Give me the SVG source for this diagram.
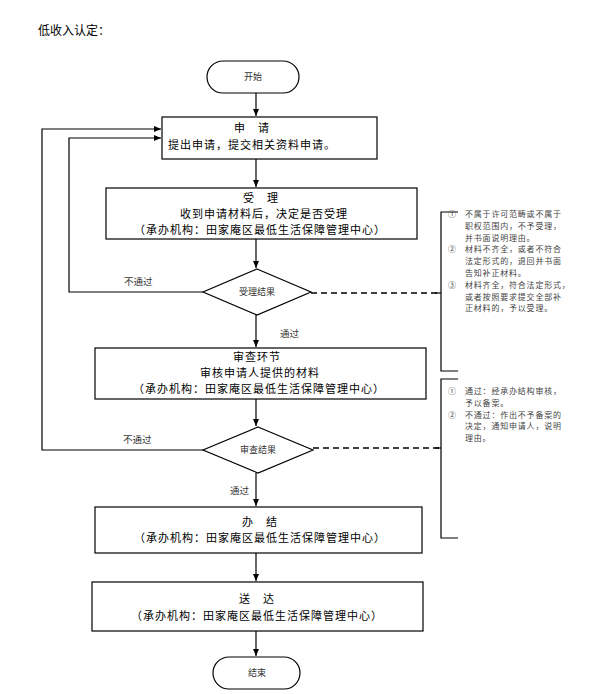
<svg xmlns="http://www.w3.org/2000/svg" width="589" height="694" viewBox="0 0 589 694">
<defs>
<marker id="arr" markerWidth="8" markerHeight="8" refX="7" refY="4" orient="auto" markerUnits="userSpaceOnUse">
<path d="M0,1 L7,4 L0,7 Z" fill="#000"/>
</marker>
<style>
.box{fill:#fff;stroke:#000;stroke-width:1.2}
.ln{fill:none;stroke:#000;stroke-width:1.2}
.dash{fill:none;stroke:#000;stroke-width:1.4;stroke-dasharray:6,4}
text{font-family:"Noto Sans CJK SC","Noto Sans CJK JP",sans-serif}
.t{font-size:11px;letter-spacing:1px;fill:#000;text-anchor:middle}
.s{font-size:9px;fill:#333;text-anchor:middle}
.a{font-size:8px;letter-spacing:0.8px;fill:#444}
.lbl{font-size:9.5px;fill:#333}
</style>
</defs>
<rect width="589" height="694" fill="#fff"/>
<text x="38" y="35" style="font-size:12px" fill="#000">低收入认定：</text>

<g id="connectors">
<line class="ln" x1="256" y1="93" x2="256" y2="116" marker-end="url(#arr)"/>
<line class="ln" x1="256" y1="159" x2="256" y2="187" marker-end="url(#arr)"/>
<line class="ln" x1="256" y1="239" x2="256" y2="268" marker-end="url(#arr)"/>
<line class="ln" x1="256" y1="315" x2="256" y2="347" marker-end="url(#arr)"/>
<line class="ln" x1="256" y1="399" x2="256" y2="426" marker-end="url(#arr)"/>
<line class="ln" x1="256" y1="473" x2="256" y2="506" marker-end="url(#arr)"/>
<line class="ln" x1="256" y1="553" x2="256" y2="581" marker-end="url(#arr)"/>
<line class="ln" x1="256" y1="631" x2="256" y2="656" marker-end="url(#arr)"/>
<polyline class="ln" points="203,292 69,292 69,138 161,138" marker-end="url(#arr)"/>
<polyline class="ln" points="203,450 42,450 42,129 161,129" marker-end="url(#arr)"/>
<line class="dash" x1="311" y1="293" x2="441" y2="293"/>
<line class="dash" x1="313" y1="448" x2="441" y2="448"/>
<text class="lbl" x="124" y="285">不通过</text>
<text class="lbl" x="280" y="337">通过</text>
<text class="lbl" x="123" y="443">不通过</text>
<text class="lbl" x="230" y="494">通过</text>
</g>

<g id="start">
<rect class="box" x="207" y="61" width="92" height="32" rx="16"/>
<text class="s" x="253" y="80">开始</text>
</g>

<g id="apply">
<rect class="box" x="162" y="117" width="215" height="42"/>
<text class="t" x="252" y="132">申　请</text>
<text class="t" x="252" y="149">提出申请，提交相关资料申请。</text>
</g>

<g id="accept">
<rect class="box" x="106" y="188" width="311" height="51"/>
<text class="t" x="261" y="202">受　理</text>
<text class="t" x="264" y="218">收到申请材料后，决定是否受理</text>
<text class="t" x="260" y="234">（承办机构：田家庵区最低生活保障管理中心）</text>
</g>

<g id="accept-result">
<polygon class="box" points="257,269 311,292 257,315 203,292"/>
<text class="s" x="257" y="295">受理结果</text>
</g>

<g id="review">
<rect class="box" x="95" y="348" width="331" height="51"/>
<text class="t" x="257" y="361">审查环节</text>
<text class="t" x="260" y="377">审核申请人提供的材料</text>
<text class="t" x="259" y="393">（承办机构：田家庵区最低生活保障管理中心）</text>
</g>

<g id="review-result">
<polygon class="box" points="258,427 313,450 258,473 203,450"/>
<text class="s" x="258" y="453">审查结果</text>
</g>

<g id="finish">
<rect class="box" x="95" y="507" width="327" height="46"/>
<text class="t" x="260" y="526">办　结</text>
<text class="t" x="260" y="542">（承办机构：田家庵区最低生活保障管理中心）</text>
</g>

<g id="deliver">
<rect class="box" x="92" y="582" width="331" height="49"/>
<text class="t" x="257" y="603">送　达</text>
<text class="t" x="257" y="620">（承办机构：田家庵区最低生活保障管理中心）</text>
</g>

<g id="end">
<rect class="box" x="213" y="657" width="87" height="32" rx="16"/>
<text class="s" x="257" y="676">结束</text>
</g>

<g id="note-accept">
<polyline class="ln" points="458,212 441,212 441,371 458,371"/>
<line class="ln" x1="435" y1="293" x2="441" y2="293"/>
<text class="a" x="448" y="217">①</text>
<text class="a" x="465" y="217">不属于许可范畴或不属于</text>
<text class="a" x="465" y="228.8">职权范围内，不予受理，</text>
<text class="a" x="465" y="240.6">并书面说明理由。</text>
<text class="a" x="448" y="252.4">②</text>
<text class="a" x="465" y="252.4">材料不齐全，或者不符合</text>
<text class="a" x="465" y="264.2">法定形式的，退回并书面</text>
<text class="a" x="465" y="276">告知补正材料。</text>
<text class="a" x="448" y="287.8">③</text>
<text class="a" x="465" y="287.8">材料齐全，符合法定形式，</text>
<text class="a" x="465" y="299.6">或者按照要求提交全部补</text>
<text class="a" x="465" y="311.4">正材料的，予以受理。</text>
</g>

<g id="note-review">
<polyline class="ln" points="458,379 441,379 441,538 458,538"/>
<line class="ln" x1="435" y1="448" x2="441" y2="448"/>
<text class="a" x="448" y="394">①</text>
<text class="a" x="465" y="394">通过：经承办结构审核，</text>
<text class="a" x="465" y="405.8">予以备案。</text>
<text class="a" x="448" y="417.6">②</text>
<text class="a" x="465" y="417.6">不通过：作出不予备案的</text>
<text class="a" x="465" y="429.4">决定，通知申请人，说明</text>
<text class="a" x="465" y="441.2">理由。</text>
</g>
</svg>
